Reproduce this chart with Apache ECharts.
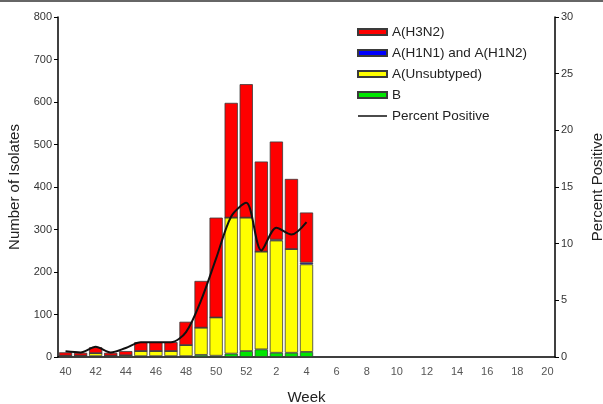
<!DOCTYPE html>
<html>
<head>
<meta charset="utf-8">
<script src="https://cdn.jsdelivr.net/npm/echarts@6/dist/echarts.min.js"></script>
<style>
  html, body { margin: 0; padding: 0; background: #fff; }
  #main { width: 603px; height: 404px; }
</style>
</head>
<body>
<div id="main"></div>
<script>
// weeks of the season
var weeks = ['40','41','42','43','44','45','46','47','48','49','50','51','52',
  '1','2','3','4','5','6','7','8','9','10','11','12','13','14','15','16','17','18','19','20'];

// isolates per week (stacked), only up to week 4
var h3n2 = [8, 7, 14, 7, 10, 21, 21, 21, 55, 110, 235, 270, 314, 212, 231, 165, 118];
var h1n1 = [0, 0, 0, 0, 0, 0, 0, 0, 0, 0, 0, 0, 0, 0, 2, 0, 4];
var unsub = [2, 2, 7, 2, 3, 12, 12, 12, 26, 64, 90, 320, 314, 230, 264, 244, 206];
var fluB = [1, 1, 2, 1, 1, 2, 2, 2, 2, 5, 3, 8, 14, 18, 10, 10, 12];

// percent of specimens positive
var pctPositive = [0.5, 0.4, 0.9, 0.4, 0.8, 1.3, 1.3, 1.3, 2.2, 5.0, 8.7, 12.4, 13.6, 9.4, 11.4, 10.8, 11.9];

var myChart = echarts.init(document.getElementById('main'));
var font = 'Liberation Sans, Arial, sans-serif';
var barBorder = { borderColor: '#3a3a3a', borderWidth: 0.8 };

function barSeries(name, data, color) {
  return {
    name: name,
    type: 'bar',
    stack: 'isolates',
    barCategoryGap: '12%',
    data: data,
    itemStyle: Object.assign({ color: color }, barBorder)
  };
}

var option = {
  animation: false,
  textStyle: { fontFamily: font },
  graphic: [{
    type: 'line',
    shape: { x1: 0, y1: 1, x2: 603, y2: 1 },
    style: { stroke: '#333', lineWidth: 1.5 }
  }],
  grid: { left: 58, right: 48, top: 17, bottom: 47, containLabel: false, outerBoundsMode: 'none' },
  legend: {
    orient: 'vertical',
    left: 352,
    top: 19,
    itemWidth: 29,
    itemHeight: 6,
    itemGap: 5,
    textStyle: { fontSize: 13.5, lineHeight: 16, color: '#222', fontFamily: font },
    data: [
      { name: 'A(H3N2)', icon: 'rect' },
      { name: 'A(H1N1) and A(H1N2)', icon: 'rect' },
      { name: 'A(Unsubtyped)', icon: 'rect' },
      { name: 'B', icon: 'rect' },
      { name: 'Percent Positive', icon: 'path://M0,0H0.01V0.01H0Z M0,2.2H30V3.8H0Z M0,6H0.01V6.01H0Z' }
    ]
  },
  xAxis: {
    type: 'category',
    data: weeks,
    name: 'Week',
    nameLocation: 'middle',
    nameGap: 33,
    nameTextStyle: { fontSize: 15, color: '#222' },
    axisLine: { lineStyle: { color: '#000', width: 1.5 } },
    axisTick: { interval: 0, length: 4, lineStyle: { color: '#000' } },
    axisLabel: { interval: 1, fontSize: 11, color: '#555', margin: 9 }
  },
  yAxis: [{
    type: 'value',
    min: 0,
    max: 800,
    interval: 100,
    name: 'Number of Isolates',
    nameLocation: 'middle',
    nameGap: 34,
    nameTextStyle: { fontSize: 15, color: '#222' },
    splitLine: { show: false },
    axisLine: { show: true, lineStyle: { color: '#000', width: 1.5 } },
    axisTick: { show: true, length: 4, lineStyle: { color: '#000' } },
    axisLabel: { fontSize: 11, color: '#333', margin: 6 }
  }, {
    type: 'value',
    min: 0,
    max: 30,
    interval: 5,
    position: 'right',
    name: 'Percent Positive',
    nameLocation: 'middle',
    nameGap: 35,
    nameRotate: 90,
    nameTextStyle: { fontSize: 15, color: '#222' },
    splitLine: { show: false },
    axisLine: { show: true, lineStyle: { color: '#000', width: 1.5 } },
    axisTick: { show: true, length: 4, lineStyle: { color: '#000' } },
    axisLabel: { fontSize: 11, color: '#333', margin: 6 }
  }],
  series: [
    barSeries('B', fluB, '#00e600'),
    barSeries('A(Unsubtyped)', unsub, '#ffff00'),
    barSeries('A(H1N1) and A(H1N2)', h1n1, '#0000ff'),
    barSeries('A(H3N2)', h3n2, '#ff0000'),
    {
      name: 'Percent Positive',
      type: 'line',
      yAxisIndex: 1,
      data: pctPositive,
      smooth: 0.3,
      symbol: 'none',
      lineStyle: { color: '#111', width: 2 },
      itemStyle: { color: '#111' },
      z: 5
    }
  ]
};
myChart.setOption(option);
</script>
</body>
</html>
